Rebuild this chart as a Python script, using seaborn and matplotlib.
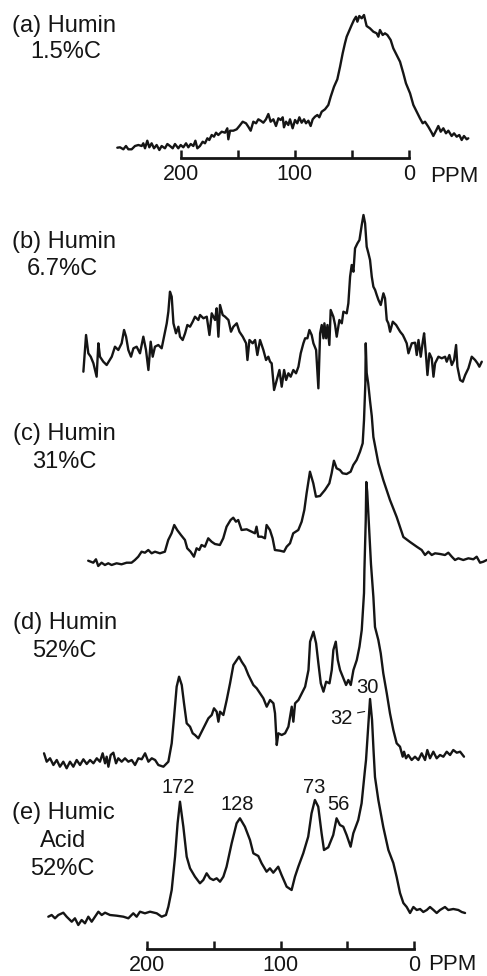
## stacked 13C NMR spectra of humin / humic acid fractions, redrawn with seaborn
import matplotlib
matplotlib.use('Agg')
import matplotlib.pyplot as plt
import pandas as pd
import seaborn as sns

sns.set_theme(style='white')
plt.rcParams['font.family'] = ['Liberation Sans', 'DejaVu Sans']

# (ppm, intensity), intensity in arbitrary units above each baseline
spec_a = [(255.6, 0.3), (253.2, 0.7), (250.3, -1.3), (248.0, 2), (245.9, -1.3), (243.0, -1.3), (240.1, 2),
          (237.1, 3), (234.2, 2), (232.8, 4.7), (231.3, -0.3), (229.3, 7.3), (227.5, 0.7), (225.5, 4.7),
          (223.4, -0.3), (221.1, 3), (218.7, -2), (216.7, 2), (213.8, -0.3), (211.7, 4), (209.4, 2),
          (207.0, -0.3), (205.0, 4), (202.1, -0.3), (200.0, 3), (197.7, 0.7), (195.3, 4.7), (193.3, 0.7),
          (191.2, 4), (188.9, 2), (187.1, 7.3), (185.4, -0.3), (183.1, 2), (180.7, 6.3), (178.7, 4.7),
          (176.6, 9.7), (174.9, 8), (172.8, 13), (170.8, 11.3), (169.0, 15.3), (167.0, 13), (164.0, 16.3),
          (161.1, 15.3), (159.1, 19.7), (158.2, 8.7), (156.7, 17.3), (153.8, 17.3), (150.9, 18.7),
          (148.5, 22), (145.6, 26.3), (142.7, 24.7), (140.7, 21.3), (138.6, 17.3), (136.3, 26.3),
          (133.9, 24.7), (131.9, 28.7), (129.8, 27.3), (127.5, 25.3), (125.2, 28.7), (123.1, 34),
          (121.1, 26.3), (118.7, 28.7), (116.4, 22), (114.3, 29.7), (112.3, 28), (110.5, 30.7),
          (109.4, 20.7), (107.6, 26.3), (105.6, 23), (104.1, 28.7), (101.8, 19.7), (99.7, 28), (97.7, 24.7),
          (95.9, 30.7), (93.9, 25.3), (91.8, 28.7), (90.1, 24.7), (88.0, 27.3), (86.0, 22), (84.2, 28.7),
          (82.2, 31.3), (80.1, 33), (78.4, 30.7), (76.3, 36.3), (73.4, 38.7), (70.5, 43), (68.4, 51.3),
          (65.5, 61.3), (62.6, 68.7), (60.2, 81.3), (57.9, 94.7), (55.9, 104.7), (54.4, 111.3), (50.0, 123),
          (48.0, 128), (46.2, 131.3), (45.0, 126.3), (43.3, 132), (41.2, 129.7), (39.2, 133), (36.9, 122),
          (34.0, 119.7), (31.0, 116.3), (28.1, 114.7), (26.6, 111.3), (25.2, 118), (22.8, 113),
          (20.8, 114.7), (18.7, 113), (15.8, 108), (13.5, 99.7), (10.5, 93), (7.6, 86.3), (4.7, 74.7),
          (2.4, 64.7), (-1.2, 54.7), (-4.1, 43), (-7.0, 36.3), (-9.9, 29.7), (-12.3, 24.7), (-14.3, 26.3),
          (-17.2, 21.3), (-20.2, 15.3), (-21.6, 12), (-24.0, 17.3), (-26.0, 22), (-28.1, 16.3),
          (-30.4, 19.7), (-32.7, 14.7), (-34.8, 17.3), (-37.7, 12), (-39.8, 14.7), (-42.1, 11.3),
          (-44.4, 13), (-46.5, 8), (-48.5, 12), (-50.9, 8.7), (-52.3, 9.7)]

spec_b = [(247.3, -1.7), (245.3, 35), (243.6, 16.7), (241.8, 13.3), (239.8, 6.7), (237.4, -6.7),
          (236.1, 26.7), (234.9, 13.3), (232.4, 8.3), (229.9, 5), (226.1, 13.3), (223.7, 23.3), (221.2, 20),
          (218.7, 26.7), (216.9, 40), (215.4, 33.3), (213.7, 20), (211.7, 13.3), (209.9, 21.7),
          (207.5, 23.3), (205.0, 16.7), (202.5, 33.3), (200.5, 20), (198.7, 0), (197.0, 28.3),
          (195.5, 13.3), (193.8, 23.3), (191.3, 25), (188.8, 21.7), (187.0, 33.3), (185.0, 46.7),
          (183.8, 58.3), (182.6, 78.3), (181.3, 73.3), (180.0, 46.7), (178.1, 36.7), (176.3, 43.3),
          (175.1, 33.3), (173.1, 30), (171.3, 36.7), (169.6, 45), (167.6, 43.3), (165.6, 48.3),
          (163.9, 53.3), (161.4, 50), (160.1, 55), (157.6, 51.7), (155.1, 53.3), (153.1, 35), (151.4, 56.7),
          (148.9, 50), (147.7, 61.7), (146.4, 33.3), (145.2, 65), (143.2, 55), (141.4, 53.3), (138.9, 50),
          (137.0, 38.3), (135.2, 43.3), (132.7, 46.7), (130.7, 38.3), (128.2, 33.3), (125.7, 26.7),
          (124.7, 10), (123.2, 30), (120.8, 26.7), (119.0, 30), (117.3, 15), (115.3, 30), (112.8, 20),
          (110.8, 10), (109.1, 13.3), (107.8, 8.3), (106.6, 6.7), (104.8, -20), (102.8, -10), (100.8, 0),
          (99.1, -16.7), (97.3, 0), (95.8, -10), (94.1, -3.3), (92.4, -6.7), (90.4, 0), (88.4, -3.3),
          (86.6, 3.3), (84.9, 16.7), (82.9, 26.7), (81.6, 31.7), (79.9, 31.7), (78.4, 40), (76.7, 35),
          (75.4, 26.7), (73.4, 20), (71.7, -18.3), (70.4, 36.7), (69.2, 45), (67.9, 31.7), (67.2, 46.7),
          (65.9, 31.7), (64.9, 45), (63.5, 25), (62.5, 60), (60.5, 53.3), (59.2, 45), (58.0, 33.3),
          (56.0, 50), (54.2, 46.7), (53.0, 58.3), (50.5, 56.7), (49.3, 66.7), (48.0, 93.3), (46.8, 105),
          (45.5, 98.3), (44.3, 121.7), (42.5, 126.7), (41.0, 130), (39.3, 145), (38.0, 155), (36.8, 146.7),
          (35.6, 123.3), (34.3, 116.7), (33.1, 110), (31.8, 93.3), (30.6, 83.3), (29.3, 80), (28.1, 75),
          (26.8, 70), (25.1, 65), (23.1, 76.7), (21.9, 71.7), (20.6, 50), (19.4, 46.7), (18.1, 38.3),
          (16.1, 48.3), (13.6, 45), (10.6, 38.3), (8.6, 35), (7.4, 31.7), (5.7, 26.7), (4.4, 16.7),
          (1.9, 26.7), (-0.6, 27.3), (-1.8, 15), (-3.1, 30), (-4.8, 13.3), (-6.3, 28.3), (-7.3, 36.7),
          (-8.8, 13.3), (-9.8, -5), (-11.3, 16.7), (-13.0, 11.7), (-14.3, -6.7), (-15.5, 6.7), (-18.0, 13.3),
          (-20.5, 11.7), (-23.0, 13.3), (-24.2, 8.3), (-26.2, 15), (-28.0, 5), (-29.7, 10), (-31.2, 25),
          (-32.2, 3.3), (-34.2, -10), (-36.2, -11.7), (-38.0, -5), (-40.4, 1.7), (-42.9, 13.3), (-45.4, 10),
          (-47.2, 6.7), (-48.6, 3.3), (-50.4, 8.3)]

spec_c = [(243.7, 0.3), (239.9, -1.7), (237.9, 1.7), (236.2, -5), (233.7, -1.7), (231.2, -4), (228.7, -2.3),
          (226.2, -4), (222.5, -2.3), (218.8, -3.3), (215.0, -1.7), (211.3, -1.7), (208.8, 1), (206.3, 4.3),
          (203.8, 9.3), (201.3, 8.3), (198.8, 11), (196.3, 7.7), (193.8, 9.3), (190.1, 7.7), (186.4, 9.3),
          (183.9, 21), (181.4, 27.7), (179.4, 36), (177.2, 31), (174.4, 26), (171.4, 21), (169.7, 12.7),
          (167.2, 9.3), (164.7, 4.3), (162.7, 12.7), (160.7, 11), (159.0, 16), (156.5, 14.3), (154.0, 22.7),
          (151.5, 19.3), (149.0, 17), (145.3, 16), (142.8, 22.7), (140.3, 34.3), (137.3, 41), (135.3, 43.3),
          (133.3, 39.3), (131.6, 41), (129.1, 31), (125.3, 31.7), (121.6, 29.3), (119.1, 27.7), (117.9, 34.3),
          (116.6, 24.3), (114.1, 24.3), (111.6, 22.7), (110.4, 36), (107.9, 31), (105.9, 22.7), (104.2, 11),
          (100.4, 10.3), (97.4, 9.3), (95.4, 14.3), (92.9, 17.7), (90.5, 27.7), (86.7, 31), (84.2, 39.3),
          (82.2, 51), (80.5, 67.7), (78.0, 89.3), (75.5, 77.7), (73.5, 64.3), (70.5, 65), (66.8, 71),
          (63.5, 77.7), (61.8, 87.7), (60.1, 100.3), (58.1, 92.7), (55.6, 91), (53.6, 87.7), (50.6, 87),
          (47.6, 89.3), (45.6, 96), (43.1, 101), (40.6, 109.3), (38.6, 117.7), (37.6, 141), (36.6, 177.7),
          (36.3, 217.7), (35.6, 188), (34.5, 178), (33.1, 160), (31.8, 145), (30.6, 124), (26.9, 98),
          (23.2, 81), (18.2, 61), (13.2, 44), (8.2, 24), (3.2, 19), (-1.8, 14.3), (-5.5, 11), (-8.0, 6),
          (-10.5, 9.3), (-13.0, 6), (-15.5, 7.7), (-19.2, 7), (-22.9, 6), (-25.4, 8.3), (-28.0, 4.3),
          (-30.4, 1), (-32.9, 2.7), (-36.6, 1), (-40.4, 2.7), (-44.1, 1.7), (-46.6, 4.3), (-49.1, -1.7),
          (-51.6, -0.7), (-54.1, 1)]

spec_d = [(276.7, 6.7), (274.7, -1.7), (272.2, 1.7), (269.7, -5), (267.2, 0), (264.8, -6.7), (262.3, -1.7),
          (259.8, -8.3), (257.3, -1.7), (254.8, -6.7), (252.3, 0), (249.8, -5), (247.3, 0.7), (244.8, -4),
          (242.3, 0), (239.8, -3.3), (237.3, 1.7), (234.9, -1.7), (232.9, 6.7), (231.1, -3.3), (229.9, 3.3),
          (228.6, -6.7), (226.9, 5), (224.9, 7.3), (222.9, -3.3), (221.2, 1.7), (218.7, -1.7), (216.2, 1.7),
          (213.7, -1.7), (211.2, 0), (208.7, -5), (206.2, 1.7), (203.7, 0.7), (201.2, 6.7), (198.7, -1.7),
          (196.2, 1.7), (193.7, 0), (191.3, -5), (187.5, -6.7), (183.8, -1.7), (181.3, 16.7), (179.5, 43.3),
          (177.6, 73.3), (175.8, 83.3), (173.8, 75), (172.1, 56.7), (170.1, 36.7), (167.6, 33.3),
          (165.6, 26.7), (163.9, 25), (161.4, 21.7), (158.9, 28.3), (156.4, 35), (153.9, 41.7), (151.4, 45),
          (149.7, 51.7), (147.7, 48.3), (146.4, 38.3), (145.2, 48.3), (142.7, 45), (140.2, 60), (137.7, 76.7),
          (135.2, 95), (132.7, 100), (131.0, 103.3), (129.0, 98.3), (126.5, 93.3), (124.0, 85), (121.5, 78.3),
          (120.3, 75), (117.8, 71.7), (115.3, 66.7), (112.8, 61.7), (110.3, 53.3), (107.8, 60), (105.3, 56.7),
          (104.1, 46.7), (102.8, 15), (101.6, 26.7), (99.1, 25), (96.6, 26.7), (94.1, 33.3), (91.6, 53.3),
          (90.4, 38.3), (89.1, 56.7), (86.6, 60), (84.1, 66.7), (81.6, 73.3), (79.1, 90), (77.9, 118.3),
          (75.4, 128.3), (73.4, 116.7), (71.7, 96.7), (69.9, 76.7), (67.9, 68.3), (65.9, 78.3), (63.4, 76.7),
          (61.7, 90), (60.5, 110), (58.7, 118.3), (57.2, 100), (55.5, 90), (53.0, 81.7), (51.0, 75),
          (49.3, 80), (47.5, 75), (45.5, 90), (43.0, 100), (41.0, 113.3), (39.3, 130), (37.6, 167),
          (37.3, 190), (36.3, 240), (35.9, 278), (35.2, 268), (34.2, 243), (32.4, 196), (30.6, 163),
          (29.4, 133), (26.9, 120), (25.1, 106.7), (23.2, 86.7), (20.6, 66.7), (18.2, 46.7), (15.7, 30),
          (13.2, 16.7), (10.7, 13.3), (8.7, 3.3), (7.7, 8.3), (6.2, 1.7), (4.5, 5), (2.0, 0), (-0.5, 3.3),
          (-3.0, 0), (-5.5, 6.7), (-8.0, 0), (-9.7, 10), (-11.7, 1.7), (-14.2, 8.3), (-16.7, 1.7), (-19.2, 5),
          (-21.7, 3.3), (-24.2, 8.3), (-26.7, 5), (-29.1, 10), (-31.7, 7.3), (-34.2, 8.3), (-37.1, 3.3)]

spec_e = [(273.5, -1.7), (271.0, 0), (268.5, -3.3), (266.0, 0), (262.3, 2.3), (259.8, -1.7), (256.0, -6.7),
          (253.6, -3.3), (251.1, -10), (248.6, -5), (246.1, -8.3), (243.6, -1.7), (241.1, -6.7), (238.6, -1.7),
          (236.1, 3.3), (233.6, 0), (231.1, 2.3), (227.4, 0), (222.4, -0.7), (217.4, -1.7), (213.7, -3.3),
          (210.0, 1.7), (207.5, -1.7), (205.0, 3.3), (201.3, 1.7), (197.5, 3.3), (192.5, 1.7), (188.8, -1.7),
          (185.6, 0), (183.8, 8.3), (181.3, 25), (178.8, 58.3), (176.9, 91.7), (175.1, 113.3), (172.6, 88.3),
          (170.1, 58.3), (167.6, 46.7), (163.9, 38.3), (160.2, 31.7), (157.7, 35), (155.2, 41.7), (152.7, 36.7),
          (150.2, 35), (147.7, 36.7), (145.2, 33.3), (142.7, 38.3), (140.3, 48.3), (136.5, 71.7), (132.8, 91.7),
          (130.3, 96.7), (126.6, 88.3), (122.8, 75), (120.3, 61.7), (116.6, 59), (114.1, 51.7), (110.4, 43.3),
          (107.9, 46.7), (105.4, 42.3), (101.7, 48.3), (99.2, 40), (95.4, 28.3), (91.7, 25), (89.2, 38.3),
          (86.7, 48.3), (83.0, 61.7), (79.3, 78.3), (76.8, 101.7), (74.3, 115), (71.8, 108.3), (69.3, 81.7),
          (67.5, 65), (64.3, 67.7), (60.6, 80), (58.1, 96.7), (55.6, 90), (53.1, 88.3), (50.6, 80), (47.6, 68.3),
          (45.6, 81.7), (41.9, 95), (39.4, 111.7), (36.9, 145), (36.1, 155), (33.1, 216), (31.6, 195),
          (30.5, 165), (29.4, 138), (26.9, 115), (23.2, 88), (19.4, 65), (15.7, 52), (13.2, 38), (10.7, 22),
          (8.2, 12), (5.7, 8), (3.2, 2), (0.7, 8), (-1.8, 5), (-4.3, 6), (-6.7, 3), (-9.3, 5), (-11.7, 8),
          (-14.3, 5), (-16.7, 2), (-19.2, 5), (-22.9, 8), (-25.4, 5), (-29.1, 6), (-32.9, 5), (-35.4, 3),
          (-37.9, 2)]

ppm_ticks = [200, 150, 100, 50, 0]
ppm_ticklabels = ['200', '', '100', '', '0']

sample_labels = [['(a) Humin', '1.5%C'], ['(b) Humin', '6.7%C'], ['(c) Humin', '31%C'],
                 ['(d) Humin', '52%C'], ['(e) Humic', 'Acid', '52%C']]
peak_labels = ['172', '128', '73', '56', '30', '32']
peak_label_ppm = [176.6, 132.2, 75.0, 57.0, 35.2, 54.3]

LINE = '#151515'
W, H = 487, 976

fig = plt.figure(figsize=(W / 100, H / 100), dpi=100)


def pix_axes(left_ppm, right_ppm):
    # full-figure axes, x in ppm, y in pixels from the top
    ax = fig.add_axes([0, 0, 1, 1])
    ax.set_xlim(left_ppm, right_ppm)
    ax.set_ylim(H, 0)
    ax.axis('off')
    return ax


def draw_spectrum(ax, pairs, base):
    df = pd.DataFrame(pairs, columns=['ppm', 'intensity'])
    df['y'] = base - df['intensity']
    sns.lineplot(data=df, x='ppm', y='y', ax=ax, sort=False, estimator=None,
                 color=LINE, lw=1.7)


def ppm_scale(x0, x1, y):
    # a bare ppm axis: only the bottom spine with inward ticks
    ax = fig.add_axes([x0 / W, 1 - y / H, (x1 - x0) / W, 0.02])
    ax.set_facecolor('none')
    ax.set_xlim(200, 0)
    ax.set_yticks([])
    ax.set_xticks(ppm_ticks)
    ax.set_xticklabels(ppm_ticklabels)
    for s in ['top', 'left', 'right']:
        ax.spines[s].set_visible(False)
    ax.spines['bottom'].set_linewidth(2.0)
    ax.spines['bottom'].set_color(LINE)
    ax.tick_params(axis='x', direction='in', length=6, width=1.8, color=LINE,
                   labelsize=15.5, labelcolor=LINE, pad=4, bottom=True)
    return ax


# spectrum (a) sits on its own, narrower ppm scale
ax_a = pix_axes(358.5, -68.7)
draw_spectrum(ax_a, spec_a, 148)

# spectra (b)-(e) share the bottom ppm scale
ax_m = pix_axes(309.6, -54.3)
for pairs, base in zip([spec_b, spec_c, spec_d, spec_e], [370, 561, 760, 915]):
    draw_spectrum(ax_m, pairs, base)

ppm_scale(180.7, 408.7, 158)
ppm_scale(146.7, 414.3, 949)
fig.text(430 / W, 1 - 176.5 / H, 'PPM', fontsize=16, color=LINE, va='center')
fig.text(428 / W, 1 - 964 / H, 'PPM', fontsize=16, color=LINE, va='center')

# sample names at the left
label_spots = [[(12, 32), (30, 58)], [(12, 248), (27, 275)], [(13, 440), (32, 468)],
               [(13, 629), (32, 657)], [(12, 819), (40, 847), (30, 875)]]
for lines, spots in zip(sample_labels, label_spots):
    for s, (x, y) in zip(lines, spots):
        fig.text(x / W, 1 - y / H, s, fontsize=17, color=LINE, va='baseline', ha='left')

# chemical shift labels
label_y = [793, 810, 793, 810, 693, 724]
for s, p, y in zip(peak_labels, peak_label_ppm, label_y):
    if s == '32':
        ax_m.annotate(s, xy=(37.1, 711.5), xytext=(p, y), fontsize=14.5, color=LINE,
                      ha='center', va='baseline',
                      arrowprops=dict(arrowstyle='-', lw=0.8, color=LINE,
                                      relpos=(1.0, 0.75), shrinkA=1, shrinkB=0))
    else:
        ax_m.text(p, y, s, fontsize=14.5, color=LINE, ha='center', va='baseline')

plt.savefig('out.png', dpi=100, facecolor='white')
